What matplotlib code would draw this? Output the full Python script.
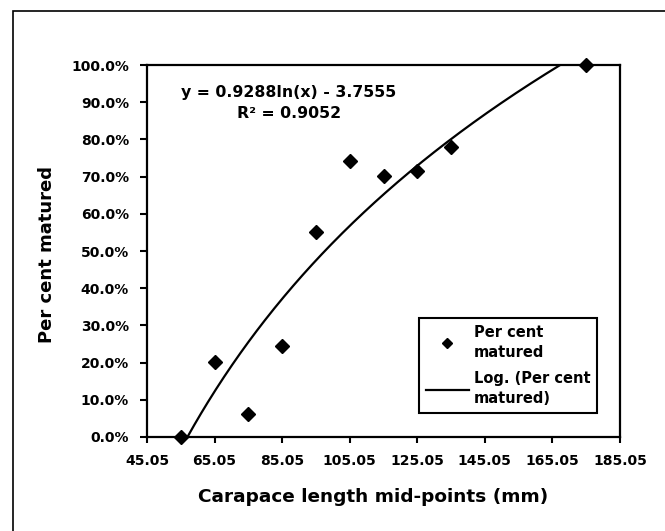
import numpy as np
import matplotlib
matplotlib.use("Agg")
import matplotlib.pyplot as plt
from matplotlib.ticker import PercentFormatter
from matplotlib.patches import Rectangle

# дані з графіка
carapace_mid = [55.05, 65.05, 75.05, 85.05, 95.05, 105.05, 115.05, 125.05, 135.05, 175.05]
pct_matured = [0.0, 0.202, 0.062, 0.245, 0.552, 0.742, 0.702, 0.716, 0.779, 1.0]
x_ticks = [45.05, 65.05, 85.05, 105.05, 125.05, 145.05, 165.05, 185.05]
y_ticks = [0.0, 0.1, 0.2, 0.3, 0.4, 0.5, 0.6, 0.7, 0.8, 0.9, 1.0]
# коефіцієнти логарифмічного тренду
coef_a = 0.9288
coef_b = -3.7555
r_squared = 0.9052

plt.rcParams['font.family'] = ['DejaVu Sans']
plt.rcParams['font.weight'] = 'bold'

fig = plt.figure(figsize=(6.65, 5.31), dpi=100)
ax = fig.add_axes([147 / 665, 1 - 437 / 531, 473 / 665, 372 / 531])

# точки
ax.plot(carapace_mid, pct_matured, linestyle='none', marker='D', markersize=7,
        color='black', label='Per cent\nmatured', zorder=3, clip_on=False)

# лінія тренду
trend_x = np.linspace(min(carapace_mid), max(carapace_mid), 300)
trend_y = coef_a * np.log(trend_x) + coef_b
ax.plot(trend_x, trend_y, color='black', linewidth=1.6,
        label='Log. (Per cent\nmatured)', zorder=2)

ax.set_xlim(x_ticks[0], x_ticks[-1])
ax.set_ylim(0, 1)
ax.set_xticks(x_ticks)
ax.set_xticklabels(["%.2f" % v for v in x_ticks])
ax.set_yticks(y_ticks)
ax.yaxis.set_major_formatter(PercentFormatter(xmax=1, decimals=1))

for side in ['left', 'bottom', 'top', 'right']:
    ax.spines[side].set_linewidth(1.6)
ax.tick_params(axis='both', direction='out', width=1.5, labelsize=10, colors='black')
ax.tick_params(axis='y', length=5, pad=8)
ax.tick_params(axis='x', length=4, pad=8)

ax.set_xlabel('Carapace length mid-points (mm)', fontsize=13.3, fontweight='bold')
ax.xaxis.set_label_coords(0.478, -0.137)
ax.set_ylabel('Per cent matured', fontsize=13, fontweight='bold')
ax.yaxis.set_label_coords(-0.192, 0.49)

# рівняння тренду
ax.text(0.30, 0.899, "y = %.4fln(x) - %.4f\nR\u00b2 = %.4f" % (coef_a, -coef_b, r_squared),
        transform=ax.transAxes, ha='center', va='center', fontsize=11.3,
        fontweight='bold', linespacing=1.5)

leg = ax.legend(loc='lower left', bbox_to_anchor=(0.575, 0.0645), fontsize=10.5,
                frameon=True, fancybox=False, edgecolor='black', framealpha=1,
                handlelength=3.0, handletextpad=0.3, borderpad=0.45,
                labelspacing=0.75, borderaxespad=0)
leg.get_frame().set_linewidth(1.5)
leg.legend_handles[0].set_markersize(5)
for t in leg.get_texts():
    t.set_linespacing(1.45)

# рамка навколо рисунка
fig.patches.append(Rectangle((13 / 665, -0.2), 2, 1.2 - 11 / 531, transform=fig.transFigure,
                             fill=False, edgecolor='black', linewidth=1.2))

fig.savefig('out.png', dpi=100)
